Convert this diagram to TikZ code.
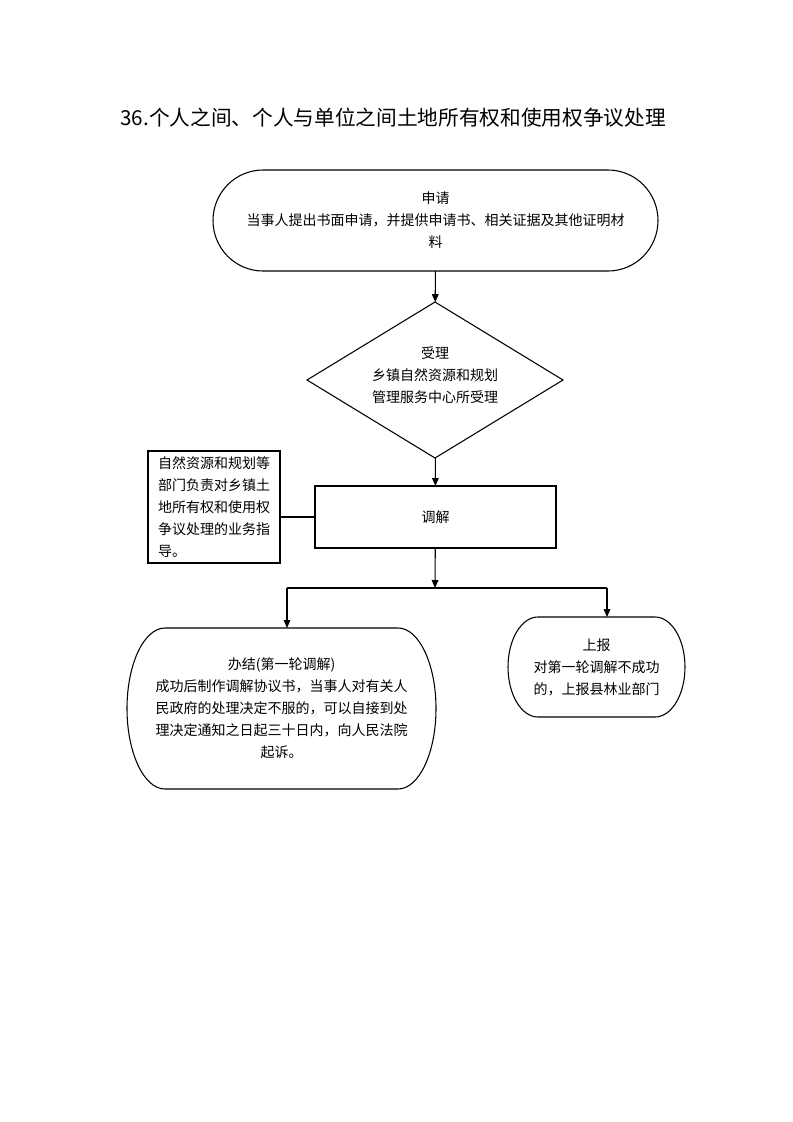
\documentclass[tikz,border=0pt]{standalone}
\usepackage{fontspec}
\setmainfont{Noto Sans CJK SC}
\usetikzlibrary{shapes.geometric, arrows.meta}

% outline of a terminator node: node, x radius, y radius
\newcommand{\termborder}[3]{\draw ([xshift=#2]#1.north west) -- ([xshift=-#2]#1.north east)
  arc[start angle=90, end angle=-90, x radius=#2, y radius=#3]
  -- ([xshift=#2]#1.south west)
  arc[start angle=270, end angle=90, x radius=#2, y radius=#3] -- cycle;}

\begin{document}
\begin{tikzpicture}[x=0.75pt, y=-0.75pt, line width=0.8pt,
  every node/.style={font=\fontsize{10.5}{16.5}\selectfont, align=center},
  every label/.style={font=\fontsize{10.5}{16.5}\selectfont, align=center},
  term/.style={outer sep=0pt, inner sep=0pt},
  box/.style={draw, outer sep=0pt},
  flow/.style={-{Triangle[length=6pt, width=5pt]}}]
\useasboundingbox (0,0) rectangle (793,1122);

\node (title) at (393,118) {\fontsize{15.5}{18}\selectfont 36.个人之间、个人与单位之间土地所有权和使用权争议处理};

\node[term, minimum width=333.75pt, minimum height=75.75pt] (apply) at (435.5,220.5)
  {申请\\当事人提出书面申请，并提供申请书、相关证据及其他证明材\\料};
\termborder{apply}{37.5pt}{37.875pt}

\node[box, diamond, shape aspect=1.64, inner sep=1pt, minimum width=192pt, minimum height=117pt,
  label={[yshift=4pt]center:受理\\乡镇自然资源和规划\\管理服务中心所受理}] (accept) at (435,380) {};

\node[box, minimum width=180.75pt, minimum height=46.5pt] (mediate) at (435.5,517) {调解};

\node[box, align=left, text width=84pt, inner xsep=7.5pt, inner ysep=3pt, minimum height=84pt] (guide) at (214,507)
  {自然资源和规划等\\部门负责对乡镇土\\地所有权和使用权\\争议处理的业务指\\导。};

\node[term, minimum width=231.75pt, minimum height=120.75pt] (done) at (281.5,708.5)
  {办结(第一轮调解)\\成功后制作调解协议书，当事人对有关人\\民政府的处理决定不服的，可以自接到处\\理决定通知之日起三十日内，向人民法院\\起诉。};
\termborder{done}{28.5pt}{60.375pt}

\node[term, minimum width=132.75pt, minimum height=75pt] (report) at (596.5,667)
  {上报\\对第一轮调解不成功\\的，上报县林业部门};
\termborder{report}{22.5pt}{37.5pt}

\coordinate (fork) at (435,588);
\coordinate (forkL) at (287,588);
\coordinate (forkR) at (607,588);

\draw[flow] (apply) -- (accept);
\draw[flow] (accept) -- (mediate);
\draw (guide.east |- mediate.west) -- (mediate.west);
\draw[flow] (mediate) -- (fork);
\draw (forkL) -- (forkR);
\draw[flow] (forkL) -- (forkL |- done.north);
\draw[flow] (forkR) -- (forkR |- report.north);
\end{tikzpicture}
\end{document}
